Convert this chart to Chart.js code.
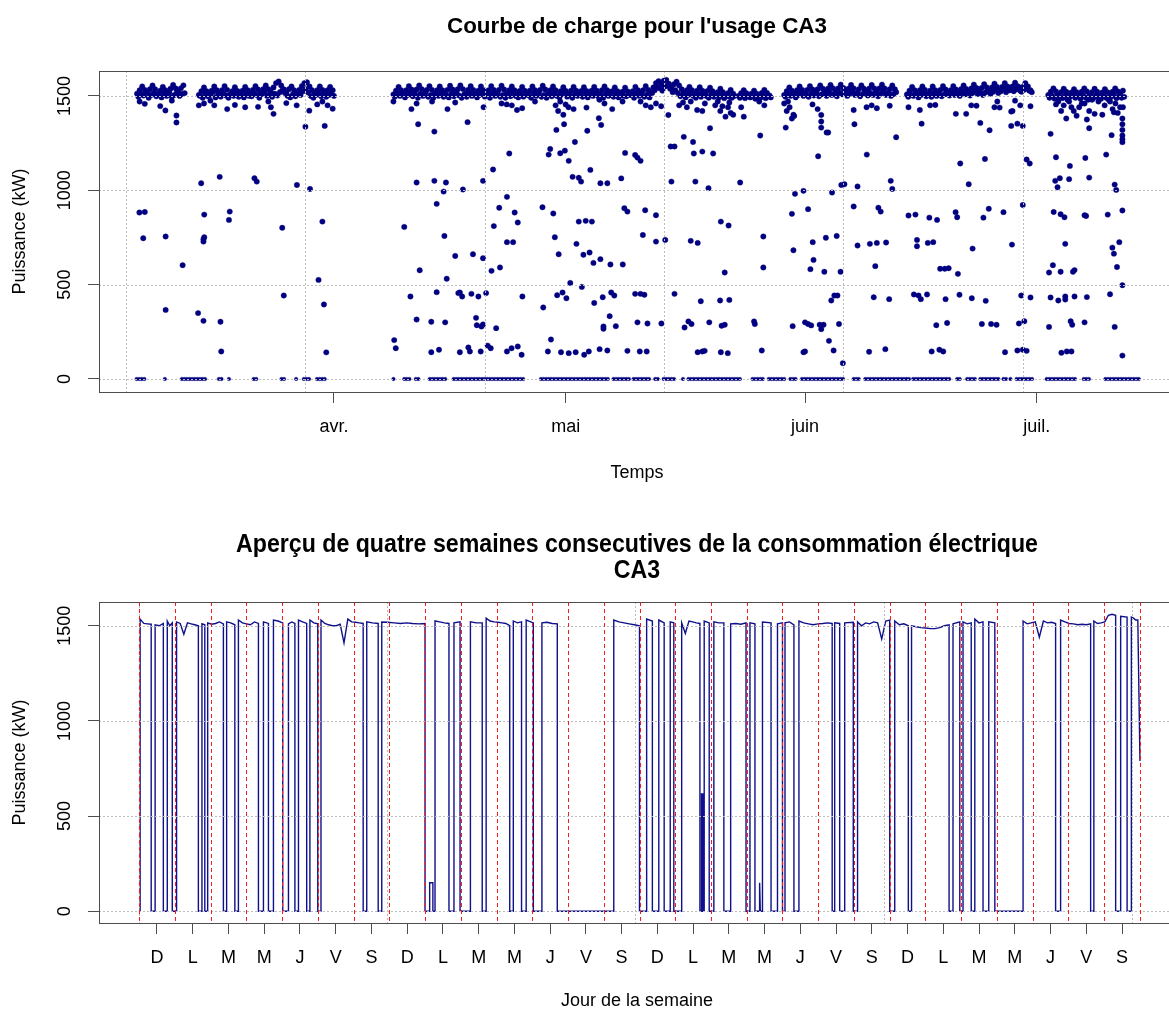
<!DOCTYPE html>
<html lang="fr">
<head>
<meta charset="utf-8">
<title>Courbe de charge CA3</title>
<script src="https://cdn.jsdelivr.net/npm/chart.js@4.4.1/dist/chart.umd.min.js"></script>
<style>
  html, body { margin: 0; padding: 0; background: #fff; overflow: hidden; }
  #wrap { width: 1169px; height: 1012px; overflow: hidden; }
  canvas { display: block; }
</style>
</head>
<body>
<div id="wrap">
  <canvas id="top" width="1200" height="500"></canvas>
  <canvas id="bottom" width="1200" height="512"></canvas>
</div>
<script>
// ---- top chart: days counted from 1 March, two readings every 8 hours ----
const SAMPLE = 1 / 3;
const monthTicks = [31, 61, 92, 122];
const monthLabels = ['avr.', 'mai', 'juin', 'juil.'];
const kwTicks = [0, 500, 1000, 1500];
const topGridDays = [4.06, 27.2, 50.6, 73.7, 96.9, 120.2];

// running periods (around 1500 kW): first reading of each slot
const bandStart = [5.5, 13.5, 38.7, 83.4, 89.3, 105.2, 123.5];
const bandKw = [
  [1512,1530,1550,1532,1515,1535,1555,1535,1510,1528,1548,1530,1518,1538,1558,1540,1520,1540,1556],
  [1505,1525,1545,1525,1508,1528,1550,1530,1510,1530,1552,1532,1505,1525,1546,1526,1508,1528,1548,1530,
   1512,1532,1552,1534,1515,1535,1555,1535,1520,1545,1568,1576,1555,1535,1515,1535,1550,1530,1512,1532,
   1552,1568,1572,1550,1530,1512,1530,1550,1532,1512,1530,1548,1530],
  [1508,1528,1548,1530,1510,1530,1552,1534,1514,1534,1555,1536,1512,1532,1552,1532,1510,1530,1550,1530,
   1512,1532,1554,1534,1515,1535,1556,1536,1512,1532,1552,1532,1508,1528,1550,1530,1510,1530,1552,1532,
   1512,1532,1554,1534,1510,1530,1550,1530,1506,1526,1548,1528,1508,1528,1550,1530,1512,1532,1554,1534,
   1510,1530,1550,1530,1505,1525,1546,1526,1508,1528,1548,1528,1506,1526,1546,1526,1508,1528,1548,1528,
   1510,1530,1550,1530,1505,1525,1545,1525,1502,1522,1544,1524,1505,1525,1548,1530,1510,1530,1552,1532,
   1520,1545,1568,1578,1560,1580,1585,1565,1545,1562,1575,1555,1535,1515,1530,1548,1530,1510,1528,1546,
   1528,1508,1526,1544,1525,1505,1520,1538,1520,1500,1515,1532,1512],
  [1500,1515,1530,1515,1498,1512,1528,1512,1500,1516,1532,1516,1502],
  [1505,1525,1545,1528,1510,1530,1550,1532,1512,1532,1552,1534,1515,1535,1556,1538,1518,1538,1558,1540,
   1520,1540,1560,1542,1518,1538,1558,1540,1515,1535,1556,1538,1518,1538,1558,1540,1520,1540,1560,1540,
   1515,1535,1555,1535],
  [1508,1528,1548,1530,1510,1530,1550,1532,1508,1528,1550,1530,1512,1532,1552,1534,1510,1530,1552,1534,
   1515,1535,1555,1537,1520,1540,1560,1542,1522,1542,1562,1545,1525,1545,1565,1548,1528,1548,1568,1550,
   1530,1550,1570,1552,1528,1548,1568,1550,1530],
  [1505,1522,1540,1524,1502,1520,1538,1522,1500,1518,1536,1520,1505,1522,1540,1524,1502,1520,1538,1522,
   1500,1518,1536,1520,1505,1522,1540,1524,1510,1528]
];
// second reading of each slot (4 hours later)
const bandKw2 = [
  [1495,1510,1502,1520,1490,1505,1515,1498,1508,1492,1512,1500,1518,1495,1505,1522,1500,1510,1515],
  [1500,1490,1512,1498,1505,1520,1492,1508,1496,1515,1502,1490,1510,1500,1518,1495,1506,1492,1512,1500,
   1498,1515,1505,1490,1510,1520,1500,1508,1495,1512,1502,1520,1530,1515,1500,1492,1508,1498,1515,1505,
   1525,1535,1518,1500,1490,1505,1515,1498,1510,1495,1505,1512,1500],
  [1495,1510,1500,1518,1492,1505,1515,1498,1508,1490,1512,1500,1520,1495,1505,1490,1510,1500,1515,1495,
   1505,1492,1512,1498,1520,1502,1490,1508,1495,1515,1500,1510,1492,1505,1518,1496,1508,1490,1512,1500,
   1515,1495,1505,1490,1510,1498,1520,1500,1492,1508,1496,1515,1502,1490,1512,1500,1518,1495,1505,1490,
   1510,1498,1515,1500,1492,1508,1520,1496,1505,1490,1512,1500,1518,1495,1508,1492,1510,1500,1515,1498,
   1505,1490,1512,1500,1520,1495,1508,1492,1510,1500,1498,1515,1505,1490,1512,1500,1518,1495,1506,1492,
   1515,1530,1545,1540,1528,1550,1555,1538,1520,1530,1515,1498,1510,1492,1505,1515,1500,1490,1508,1495,
   1512,1500,1490,1505,1495,1510,1492,1500,1488,1505,1495,1490,1500],
  [1490,1500,1488,1505,1492,1498,1485,1500,1490,1505,1488,1498,1492],
  [1495,1508,1500,1515,1492,1505,1518,1500,1510,1495,1512,1502,1520,1498,1508,1515,1500,1522,1505,1512,
   1498,1518,1508,1525,1500,1512,1520,1505,1515,1498,1510,1522,1502,1515,1505,1520,1498,1512,1525,1505,
   1515,1500,1510,1520],
  [1495,1508,1500,1515,1492,1505,1518,1498,1510,1495,1512,1500,1520,1498,1508,1515,1502,1522,1505,1512,
   1500,1518,1508,1525,1502,1515,1528,1510,1520,1505,1518,1530,1512,1522,1535,1515,1525,1540,1520,1530,
   1542,1525,1535,1545,1522,1532,1540,1528,1520],
  [1490,1500,1485,1505,1495,1488,1500,1480,1495,1505,1490,1498,1485,1502,1492,1480,1498,1488,1500,1492,
   1485,1500,1490,1480,1495,1505,1488,1498,1490,1495]
];

// short drops just under the running level
const dipDays = [
  5.83,6.5,8.5,9.17,10.0,
  13.5,14.17,15.0,15.5,17.17,18.17,19.5,21.17,22.5,22.83,23.17,24.83,26.17,28.83,29.5,30.17,30.83,
  38.7,41.03,41.7,43.7,45.7,46.7,50.37,52.7,53.37,54.03,54.7,55.37,57.03,59.7,60.03,60.3,60.7,61.0,61.37,62.03,
  63.7,65.37,66.03,67.03,68.37,70.7,71.37,72.03,72.7,73.37,75.7,76.2,76.7,77.2,78.03,78.7,79.03,80.37,80.7,
  81.03,81.3,81.7,82.03,82.2,82.37,82.7,
  83.73,84.07,86.07,86.73,
  89.3,89.63,89.8,90.0,90.3,90.5,92.97,93.63,98.3,99.97,100.63,101.3,102.97,
  106.87,108.2,108.87,111.53,112.87,113.53,114.2,116.53,116.9,117.2,118.87,119.2,119.87,121.2,
  124.5,124.8,125.17,125.5,125.83,126.2,126.5,126.8,127.17,127.5,127.83,128.2,128.5,128.8,129.17,129.5,
  130.0,130.5,130.8,131.5,131.83,132.2,132.5,132.8,133.17
];
const dipKw = [
  1470,1458,1446,1423,1475,
  1450,1460,1475,1450,1430,1452,1440,1442,1470,1440,1405,1462,1450,1455,1470,1450,1432,
  1470,1430,1460,1470,1430,1465,1440,1460,1455,1450,1425,1435,1470,1450,1420,1470,1400,1455,1440,1430,
  1438,1480,1460,1430,1470,1470,1450,1440,1460,1445,1450,1465,1440,1470,1425,1420,1460,1450,1470,
  1420,1445,1390,1440,1465,1410,1400,
  1440,1390,1470,1450,
  1460,1420,1470,1440,1380,1400,1455,1430,1425,1440,1450,1435,1448,
  1425,1450,1452,1405,1405,1450,1448,1440,1470,1438,1420,1475,1450,1445,
  1455,1470,1420,1450,1380,1470,1440,1420,1395,1440,1460,1460,1375,1420,1480,1405,
  1470,1400,1450,1470,1430,1460,1410,1440,1440
];

// stopped periods (0 kW)
const zeroFrom = [5.44,9.1,11.3,16.1,17.4,20.6,24.2,26.1,27.1,28.8,38.7,40.1,41.6,43.4,46.5,57.8,67.2,69.8,72.6,73.7,
                  76.2,76.9,85.2,87.3,90.1,91.6,98.3,99.8,106.0,111.7,113.0,114.7,117.7,118.6,119.4,123.3,128.1,130.9];
const zeroTo = [6.6,9.2,14.4,16.5,17.7,21.1,24.6,26.2,28.0,30.1,39.0,40.9,42.0,45.7,55.5,66.75,69.3,72.1,73.2,75.2,
                76.5,83.8,86.6,89.6,90.9,97.2,99.1,105.6,110.8,112.3,114.0,117.1,118.1,118.9,121.4,127.0,128.9,135.5];

// isolated intermediate readings
const midDays = [
  10.6,10.6,27.3,27.8,29.8,41.9,44.0,13.8,16.2,20.7,21.0,26.2,27.9,41.7,44.0,45.5,45.2,44.3,5.8,6.5,
  14.2,17.5,17.4,29.5,40.1,6.3,9.2,14.2,14.1,14.1,24.3,45.3,11.4,42.1,45.6,29.0,24.5,40.9,44.3,29.7,
  9.2,13.4,14.1,16.3,41.7,43.6,45.4,38.8,39.0,16.4,30.0,43.6,44.6,
  46.7,47.1,47.3,48.3,50.3,51.6,53.7,47.7,53.4,52.4,54.4,54.8,51.7,53.4,54.2,49.0,50.3,51.4,52.5,47.3,
  47.6,48.8,49.7,50.7,55.4,49.4,49.5,50.1,50.3,52.0,48.4,48.6,50.0,50.9,51.3,53.4,54.0,54.8,55.3,
  59.8,59.0,58.8,60.8,60.3,60.9,61.4,62.2,63.8,65.3,65.6,64.2,61.9,62.7,63.0,65.5,66.4,58.0,59.4,59.6,
  60.1,62.4,63.3,64.1,62.7,63.6,64.4,64.6,65.5,66.8,68.4,61.6,63.1,59.9,60.6,61.1,58.1,64.7,65.8,66.9,
  67.3,59.1,58.7,60.4,61.4,62.3,63.4,64.0,65.4,66.4,65.9,65.9,66.7,67.5,
  68.2,68.7,68.6,69.0,70.0,70.3,70.7,71.3,72.7,71.0,72.7,70.0,70.7,71.2,69.0,70.6,71.5,70.3,71.6,73.4,
  73.9,74.3,75.1,74.7,74.6,75.1,76.3,77.5,77.6,78.7,80.1,79.7,77.8,79.5,77.2,78.1,81.1,82.1,81.6,78.5,
  81.0,82.2,76.4,76.9,77.3,79.6,81.2,81.6,78.1,78.7,79.0,81.1,82.0,83.6,86.2,86.6,86.6,85.4,85.5,86.4,
  89.5,90.6,90.7,91.8,90.3,92.4,93.0,90.5,93.1,92.7,90.4,92.0,92.4,92.8,91.8,92.0,
  93.7,94.1,94.1,94.1,94.8,95.0,95.5,94.7,96.1,94.5,96.6,93.9,94.1,94.4,96.4,95.1,95.7,95.4,95.8,96.2,
  96.9,96.7,97.1,98.4,98.8,98.3,98.8,100.0,100.4,101.3,102.5,101.1,100.9,100.3,102.4,101.5,101.8,103.1,103.3,103.8,
  102.9,105.4,107.1,105.4,106.3,108.1,109.1,106.5,106.5,107.9,108.6,106.1,106.7,107.0,107.8,110.2,109.0,110.4,108.4,109.4,
  109.9,109.5,110.1,110.6,111.8,111.5,111.7,112.1,113.2,112.0,113.6,113.7,114.7,115.9,115.3,115.1,115.8,115.4,114.9,116.1,
  116.8,117.7,118.8,117.9,118.7,118.7,119.5,120.2,120.2,119.7,120.4,119.5,120.2,120.7,120.0,121.2,120.7,121.1,
  123.8,124.5,124.4,124.7,125.0,126.2,126.3,128.3,128.8,128.8,124.2,125.1,125.6,128.2,128.4,125.7,123.6,124.1,125.1,126.7,
  126.9,123.8,124.8,125.7,125.7,126.9,128.5,123.6,126.4,126.6,128.2,125.2,125.9,126.5,131.0,131.7,132.1,132.3,131.2,133.1,
  131.8,132.0,132.7,132.4,133.1,131.5,132.1,133.1,133.1,133.1,133.1,133.1,133.1,133.1,132.0
];
const midKw = [
  1396,1359,1337,1422,1341,1350,1311,1037,1071,1064,1046,1028,1007,1041,1050,1041,993,928,882,885,
  871,887,843,834,806,746,755,751,741,728,801,758,603,576,531,525,442,437,460,395,
  366,349,308,303,315,303,300,206,163,146,141,142,155,
  652,455,142,1361,1050,1110,1195,1004,965,907,882,829,810,725,725,661,640,573,591,458,
  437,451,437,455,437,324,285,278,289,269,167,146,146,177,163,146,163,172,128,
  1320,1219,1189,1350,1196,1210,1156,1256,1315,1382,1346,1108,1071,1066,1046,1037,1037,910,877,751,
  661,716,658,670,834,838,834,615,635,607,607,509,488,444,458,428,379,403,433,458,
  442,209,146,142,137,142,128,146,158,151,278,266,333,280,
  1063,1198,905,887,1187,1173,1156,894,868,763,728,451,451,446,149,146,146,300,294,294,
  737,1399,451,1046,1232,1232,1283,1256,1195,1205,1195,1329,1046,1011,732,721,834,813,564,412,
  416,419,273,305,291,300,282,287,142,146,149,142,137,1041,1290,755,591,305,291,151,
  1332,1394,981,997,875,900,725,682,631,582,280,300,291,284,142,146,
  1180,1399,1364,1332,1306,1306,988,748,758,568,568,287,264,287,291,202,151,416,442,442,
  84,1028,1032,1350,1020,914,707,1189,716,721,723,598,433,144,158,907,887,1050,1007,1281,
  423,1440,1353,866,871,855,843,737,703,721,725,448,442,423,448,423,285,297,146,155,
  146,584,584,587,557,884,857,1142,1032,446,428,691,1357,1318,1166,855,902,414,291,291,
  287,884,712,142,1417,1341,1353,1341,922,294,306,151,155,149,442,432,1163,1142,
  1299,1175,1050,1016,1064,1059,1129,1171,1067,1329,885,873,857,868,864,716,564,603,568,568,
  577,432,416,437,421,437,434,276,306,287,300,139,146,146,1189,1292,1030,1002,871,893,
  696,664,725,593,497,449,276,124,1380,1350,1320,1290,1270,1255,1413
];

// ---- bottom chart: four consecutive weeks, days counted from the first Sunday ----
const dayLabels = ['D','L','M','M','J','V','S','D','L','M','M','J','V','S',
                   'D','L','M','M','J','V','S','D','L','M','M','J','V','S'];
const weekGridDays = [0, 6.94, 13.88, 20.83, 27.77];
const onStart = [0.03,0.45,0.79,1.05,1.76,1.92,2.45,2.78,3.48,3.76,4.18,4.46,4.78,5.09,6.37,6.79,8.13,8.28,8.81,9.27,
                 9.71,10.47,10.83,11.27,13.28,14.2,14.54,14.86,15.18,15.73,15.77,15.81,16.08,16.55,17.09,17.36,17.44,17.86,18.07,18.46,
                 19.46,19.74,20.1,21.14,21.61,22.77,23.05,23.38,23.77,24.73,25.78,26.71,27.46,27.76];
const onEnd = [0.34,0.68,0.93,1.66,1.84,2.36,2.68,3.34,3.62,4.02,4.36,4.69,5.0,6.27,6.69,8.0,8.22,8.67,8.98,9.6,
               10.37,10.7,11.03,11.7,14.0,14.36,14.69,14.96,15.69,15.74,15.78,15.95,16.36,16.98,17.23,17.38,17.68,18.0,18.32,19.39,
               19.6,19.98,21.0,21.52,22.66,22.96,23.28,23.61,23.94,25.64,26.62,27.32,27.64,28.0];
const onKw = [
  [1535,1512,1510,1508],[1505,1500,1512],[1525,1500,1515],[1520,1512,1455,1515,1510,1505,1500],[1510,1505],
  [1515,1508,1512,1520,1510],[1520,1515,1505],[1530,1515,1510,1505,1520,1512],[1520,1512],[1530,1525,1515],
  [1510,1520,1512],[1530,1520,1512],[1530,1515,1510],
  [1530,1512,1505,1500,1500,1508,1410,1535,1520,1518,1515,1512],
  [1520,1515,1512],[1520,1518,1515,1512,1515,1512,1510,1512],[150,150],[1525,1520,1515,1512],[1515,1520],
  [1520,1515,1515],[1540,1525,1520,1518,1515,1512,1500],[1525,1515,1520],[1530,1515],[1515,1518,1512,1510],
  [1530,1520,1515,1510,1505,1500],[1535,1525],[1530,1515],[1520,1515],[1515,1460,1525,1520,1515,1512],
  [620],[620],[1525,1515],[1520,1515,1515],[1510,1512,1508,1515],[1515,1510],[150],[1520,1515],[1510,1515],
  [1515,1520,1505],[1525,1515,1510,1505,1510,1512,1515,1512],[1515,1512],[1515,1518],
  [1520,1500,1515,1510,1520,1515,1430,1525,1530],[1525,1505,1510,1500],
  [1500,1495,1490,1488,1485,1485,1490,1500,1505],[1510,1520],[1520,1510,1515],[1535,1515,1520],[1520,1515],
  [1525,1510,1515,1520,1440,1525,1515,1518,1512],[1530,1520,1512,1510,1505,1508,1505,1510],
  [1525,1512,1515,1520,1555,1560,1555],[1550,1545],[1545,1540,1530,1530,790]
];

// ---- build the point lists ----
const bandPts = [];
bandStart.forEach((s, i) => {
  bandKw[i].forEach((v, j) => bandPts.push({x: s + j * SAMPLE, y: v}));
  bandKw2[i].forEach((v, j) => bandPts.push({x: s + (j + 0.5) * SAMPLE, y: v}));
});
const zeroPts = [];
zeroFrom.forEach((s, i) => {
  for (let d = s; d <= zeroTo[i] + 1e-9; d += SAMPLE) zeroPts.push({x: d, y: 0});
});
const dipPts = dipDays.map((d, i) => ({x: d, y: dipKw[i]}));
const midPts = midDays.map((d, i) => ({x: d, y: midKw[i]}));

const weekPts = [{x: 0, y: 0}];
onStart.forEach((s, i) => {
  const e = onEnd[i], lv = onKw[i], n = lv.length;
  weekPts.push({x: s, y: 0});
  lv.forEach((v, j) => weekPts.push({x: n > 1 ? s + (e - s) * j / (n - 1) : s, y: v}));
  if (i < onStart.length - 1) weekPts.push({x: e, y: 0});
});

// ---- drawing ----
const NAVY = '#000080';
const FONT = "'Liberation Sans', Arial, Helvetica, sans-serif";

function vline(ctx, px, y1, y2) {
  px = Math.round(px) + 0.5;
  ctx.beginPath(); ctx.moveTo(px, y1); ctx.lineTo(px, y2); ctx.stroke();
}
function hline(ctx, py, x1, x2) {
  py = Math.round(py) + 0.5;
  ctx.beginPath(); ctx.moveTo(x1, py); ctx.lineTo(x2, py); ctx.stroke();
}

// R-like frame: dotted grid over the data, box, rotated y labels, titles
const rFrame = {
  id: 'rFrame',
  afterDatasetsDraw(chart, args, o) {
    const {ctx, chartArea: a} = chart;
    const x = chart.scales.x, y = chart.scales.y;
    ctx.save();
    ctx.beginPath();
    ctx.rect(a.left, a.top, a.right - a.left, a.bottom - a.top);
    ctx.clip();
    ctx.lineWidth = 1;
    ctx.strokeStyle = '#bdbdbd';
    ctx.setLineDash([2, 2]);
    o.gridX.forEach(v => vline(ctx, x.getPixelForValue(v), a.top, a.bottom));
    o.gridY.forEach(v => hline(ctx, y.getPixelForValue(v), a.left, a.right));
    if (o.redX) {
      ctx.strokeStyle = '#ff1a1a';
      ctx.setLineDash([4, 3]);
      o.redX.forEach(v => vline(ctx, x.getPixelForValue(v), a.top, a.bottom));
    }
    ctx.restore();
  },
  afterDraw(chart, args, o) {
    const {ctx, chartArea: a} = chart;
    const y = chart.scales.y;
    ctx.save();
    ctx.strokeStyle = '#4d4d4d';
    ctx.lineWidth = 1;
    ctx.strokeRect(Math.round(a.left) + 0.5, Math.round(a.top) + 0.5,
                   Math.round(a.right - a.left), Math.round(a.bottom - a.top));
    ctx.fillStyle = '#000';
    ctx.textAlign = 'center';
    ctx.textBaseline = 'middle';
    ctx.font = '18px ' + FONT;
    kwTicks.forEach(v => {
      ctx.save();
      ctx.translate(65, y.getPixelForValue(v));
      ctx.rotate(-Math.PI / 2);
      ctx.fillText(String(v), 0, 0);
      ctx.restore();
    });
    ctx.save();
    ctx.translate(20, (a.top + a.bottom) / 2);
    ctx.rotate(-Math.PI / 2);
    ctx.fillText(o.yTitle, 0, 0);
    ctx.restore();
    ctx.fillText(o.xTitle, o.centerX, o.xTitleY);

    ctx.font = o.titleFont;
    const sx = o.titleWidth / ctx.measureText(o.title[0]).width;
    o.title.forEach((t, i) => {
      ctx.save();
      ctx.translate(o.centerX, o.titleY[i]);
      ctx.scale(sx, 1);
      ctx.fillText(t, 0, 0);
      ctx.restore();
    });
    ctx.restore();
  }
};

function xScale(min, max, height, ticks, labels) {
  return {
    type: 'linear', min: min, max: max,
    afterFit: s => { s.height = height; },
    afterBuildTicks: s => { s.ticks = ticks.map(v => ({value: v})); },
    ticks: {
      callback: v => labels[ticks.indexOf(v)],
      autoSkip: false, maxRotation: 0, minRotation: 0,
      padding: 13, color: '#000', font: {family: FONT, size: 18}
    },
    grid: {drawOnChartArea: false, drawTicks: true, tickLength: 11, tickColor: '#4d4d4d', tickWidth: 1},
    border: {display: false}
  };
}
function yScale(min, max) {
  return {
    type: 'linear', min: min, max: max,
    afterFit: s => { s.width = 99; },
    afterBuildTicks: s => { s.ticks = kwTicks.map(v => ({value: v})); },
    ticks: {display: false},
    grid: {drawOnChartArea: false, drawTicks: true, tickLength: 11, tickColor: '#4d4d4d', tickWidth: 1},
    border: {display: false}
  };
}

const dot = {pointRadius: 2.7, pointBackgroundColor: NAVY, pointBorderColor: NAVY, pointBorderWidth: 0.4};

new Chart(document.getElementById('top'), {
  type: 'scatter',
  data: {
    datasets: [
      {data: zeroPts, pointRadius: 1.8, pointBackgroundColor: NAVY, pointBorderColor: NAVY, pointBorderWidth: 0.4},
      Object.assign({data: bandPts}, dot),
      Object.assign({data: dipPts}, dot),
      Object.assign({data: midPts}, dot)
    ]
  },
  options: {
    responsive: false, animation: false,
    layout: {padding: {top: 71, right: 20, left: 0, bottom: 0}},
    plugins: {
      legend: {display: false}, tooltip: {enabled: false},
      rFrame: {
        gridX: topGridDays, gridY: kwTicks,
        yTitle: 'Puissance (kW)', xTitle: 'Temps', centerX: 637, xTitleY: 473,
        title: ["Courbe de charge pour l'usage CA3"], titleY: [27],
        titleFont: 'bold 22px ' + FONT, titleWidth: 380
      }
    },
    scales: {
      x: xScale(0.57, 140.56, 108, monthTicks, monthLabels),
      y: yScale(-69, 1632)
    }
  },
  plugins: [rFrame]
});

const dayTicks = dayLabels.map((l, i) => i + 0.5);
const dayBounds = dayLabels.map((l, i) => i).concat([dayLabels.length]);

new Chart(document.getElementById('bottom'), {
  type: 'scatter',
  data: {
    datasets: [
      {data: weekPts, showLine: true, pointRadius: 0, borderColor: '#10108a', borderWidth: 1.4, tension: 0}
    ]
  },
  options: {
    responsive: false, animation: false,
    layout: {padding: {top: 102, right: 20, left: 0, bottom: 0}},
    plugins: {
      legend: {display: false}, tooltip: {enabled: false},
      rFrame: {
        gridX: weekGridDays, gridY: kwTicks, redX: dayBounds,
        yTitle: 'Puissance (kW)', xTitle: 'Jour de la semaine', centerX: 637, xTitleY: 501,
        title: ['Aperçu de quatre semaines consecutives de la consommation électrique', 'CA3'],
        titleY: [45, 71],
        titleFont: "bold 26px 'Liberation Sans Narrow', 'Liberation Sans', Arial, sans-serif", titleWidth: 802
      }
    },
    scales: {
      x: xScale(-1.12, 29.12, 89, dayTicks, dayLabels),
      y: yScale(-61.5, 1624.7)
    }
  },
  plugins: [rFrame]
});
</script>
</body>
</html>
